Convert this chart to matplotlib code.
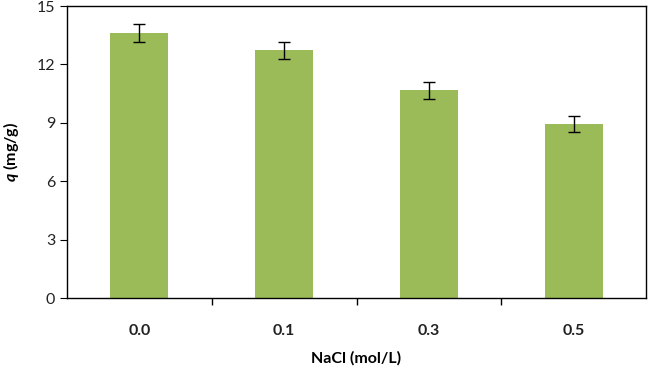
import matplotlib
matplotlib.use("Agg")
import matplotlib.pyplot as plt
import numpy as np

plt.rcParams['font.family'] = ['Lato', 'DejaVu Sans']
plt.rcParams['mathtext.fontset'] = 'custom'
plt.rcParams['mathtext.bfit'] = 'Lato:italic:bold'
plt.rcParams['mathtext.rm'] = 'Lato:bold'

categories = ['0.0', '0.1', '0.3', '0.5']
q_values = [13.62, 12.72, 10.67, 8.93]
q_errors = [0.45, 0.42, 0.45, 0.42]

fig = plt.figure(figsize=(6.48, 3.67), dpi=100)
ax = fig.add_axes([67/648, 1 - 298/367, (646 - 67)/648, (298 - 6)/367])

x = np.arange(len(categories))
ax.bar(x, q_values, width=0.4, color='#9bbb59', zorder=2)
ax.errorbar(x, q_values, yerr=q_errors, fmt='none', ecolor='black',
            elinewidth=1, capsize=4, capthick=1, zorder=3)

ax.set_xlim(-0.5, len(categories) - 0.5)
ax.set_ylim(0, 15)
ax.set_yticks([0, 3, 6, 9, 12, 15])

# category labels centred, tick marks between categories
ax.set_xticks(x)
ax.set_xticklabels(categories, fontsize=11.5, fontweight='bold', color='#222222')
ax.tick_params(axis='x', length=0, pad=19)
ax.set_xticks(np.arange(0.5, len(categories) - 0.5, 1), minor=True)
ax.tick_params(axis='x', which='minor', length=5, direction='out', width=1)
ax.tick_params(axis='y', length=5, direction='out', labelsize=11.5, labelcolor='#222222')

for sp in ax.spines.values():
    sp.set_linewidth(1)
    sp.set_color('black')

ax.set_xlabel('NaCl (mol/L)', fontsize=11.5, fontweight='bold', labelpad=9)
ax.set_ylabel(r'$\mathbfit{q}$ (mg/g)', fontsize=11.5, fontweight='bold', labelpad=11)

fig.savefig('out.png', dpi=100)
